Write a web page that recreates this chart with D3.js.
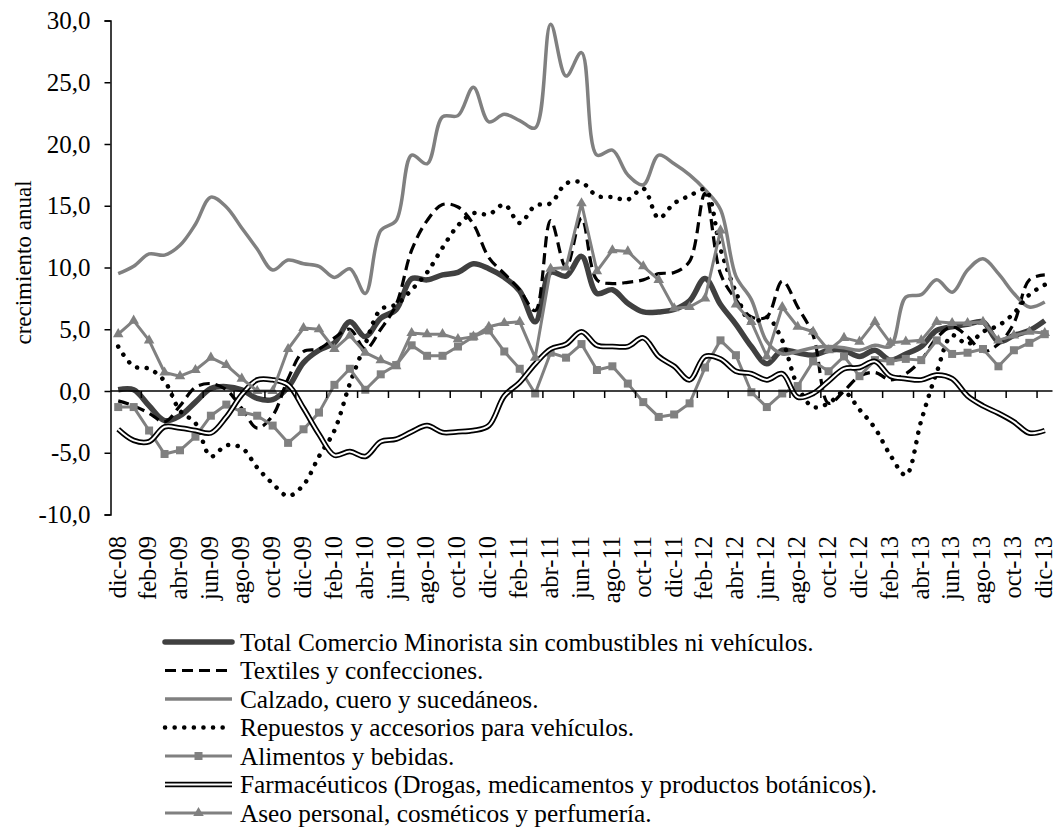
<!DOCTYPE html>
<html><head><meta charset="utf-8">
<script src="https://cdn.jsdelivr.net/npm/d3@7"></script>
<style>body{margin:0;background:#fff}svg{display:block}</style>
</head><body>
<script>
const categories = ["dic-08","ene-09","feb-09","mar-09","abr-09","may-09","jun-09","jul-09","ago-09","sep-09","oct-09","nov-09",
"dic-09","ene-10","feb-10","mar-10","abr-10","may-10","jun-10","jul-10","ago-10","sep-10","oct-10","nov-10",
"dic-10","ene-11","feb-11","mar-11","abr-11","may-11","jun-11","jul-11","ago-11","sep-11","oct-11","nov-11",
"dic-11","ene-12","feb-12","mar-12","abr-12","may-12","jun-12","jul-12","ago-12","sep-12","oct-12","nov-12",
"dic-12","ene-13","feb-13","mar-13","abr-13","may-13","jun-13","jul-13","ago-13","sep-13","oct-13","nov-13","dic-13"];

const yTicks = [-10, -5, 0, 5, 10, 15, 20, 25, 30];

const total = [0.1,0.1,-1.2,-2.4,-2.0,-0.9,0.2,0.35,0.1,-0.6,-0.7,0.3,
2.3,3.3,3.9,5.6,4.4,5.9,6.6,9.1,9.0,9.4,9.6,10.3,
9.9,9.2,8.1,5.6,9.6,9.3,10.9,7.9,8.2,7.1,6.4,6.4,
6.6,7.3,9.1,7.0,5.4,3.6,2.2,3.3,3.1,2.9,3.3,3.3,
2.8,3.3,2.5,3.0,3.6,4.9,5.2,5.4,5.6,4.0,4.5,4.9,5.7];

const textiles = [-0.8,-1.2,-1.8,-2.5,-1.2,0.3,0.6,0.1,-1.4,-3.0,-2.0,1.0,
3.2,3.4,4.3,5.0,3.4,5.0,7.0,11.4,13.8,15.1,14.9,13.5,
10.8,9.5,8.2,6.5,13.8,10.0,14.0,9.0,8.7,8.8,9.0,9.5,
9.6,10.5,16.0,9.5,7.4,6.0,6.0,8.9,6.8,4.5,-1.0,0.0,
1.2,1.5,0.9,1.4,2.5,4.3,5.2,4.4,3.2,3.8,5.5,9.0,9.4];

const calzado = [9.5,10.1,11.1,11.0,11.8,13.5,15.7,14.9,13.2,11.5,9.8,10.6,
10.3,10.1,9.2,9.9,7.9,13.0,13.8,19.1,18.4,22.2,22.3,24.6,
21.8,22.4,21.9,21.3,29.7,25.5,27.4,19.1,19.5,17.5,16.7,19.1,
18.4,17.5,16.3,14.7,9.3,7.4,4.0,3.0,3.2,3.5,3.6,3.5,
3.3,3.7,3.6,7.6,7.8,9.0,8.0,9.8,10.7,9.5,7.9,6.8,7.2];

const repuestos = [3.6,2.0,1.8,0.8,-1.6,-2.6,-5.3,-4.4,-4.6,-6.2,-7.5,-8.5,
-7.6,-5.3,-3.2,0.6,3.8,6.6,7.0,8.2,9.6,11.6,13.4,14.4,
14.3,15.1,13.6,15.0,15.2,16.8,16.9,15.8,15.7,15.5,16.4,14.0,
15.2,15.8,16.3,11.5,8.0,5.5,6.0,4.1,0.4,-1.3,-1.0,-0.1,
-1.5,-3.0,-5.2,-6.8,-2.4,1.5,4.5,3.8,4.8,5.3,6.3,7.8,8.6];

const alimentos = [-1.3,-1.3,-3.2,-5.1,-4.8,-3.7,-2.0,-1.1,-1.7,-2.0,-2.8,-4.2,
-3.1,-1.75,0.5,1.8,0.1,1.35,2.1,3.7,2.85,2.85,3.6,4.4,
4.9,3.2,1.8,-0.2,3.1,2.7,3.8,1.7,2.0,0.6,-0.9,-2.1,
-1.9,-1.0,1.9,4.1,2.9,-0.1,-1.3,-0.2,0.4,2.4,1.6,2.8,
1.2,2.5,2.4,2.6,2.5,4.1,3.0,3.1,3.4,2.0,3.3,3.9,4.6];

const farmaceuticos = [-3.1,-4.0,-4.1,-2.9,-3.0,-3.2,-3.4,-2.1,-0.3,0.9,0.9,0.5,
-1.4,-3.5,-5.2,-4.9,-5.3,-4.1,-3.9,-3.3,-2.8,-3.35,-3.3,-3.2,
-2.8,-0.4,0.7,2.2,3.4,3.8,4.8,3.7,3.6,3.6,4.3,2.8,
2.0,0.9,2.8,2.6,1.6,1.4,0.9,1.4,-0.5,-0.2,0.8,1.8,
1.9,2.4,1.2,1.0,0.9,1.3,1.0,-0.4,-1.2,-1.8,-2.5,-3.4,-3.2];

const aseo = [4.6,5.7,4.1,1.5,1.2,1.7,2.7,2.1,1.0,0.0,0.0,3.4,
5.1,5.0,3.4,4.5,3.1,2.5,2.0,4.7,4.6,4.6,4.2,4.4,
5.2,5.5,5.6,2.7,9.9,10.0,15.2,9.7,11.4,11.3,10.1,9.0,
6.7,6.8,7.5,13.0,7.0,5.6,2.8,6.8,5.2,4.8,3.3,4.3,
4.0,5.6,3.9,4.0,4.1,5.6,5.5,5.5,5.6,4.1,4.5,4.8,4.7];

const seriesNames = [
  "Total Comercio Minorista sin combustibles ni vehículos.",
  "Textiles y confecciones.",
  "Calzado, cuero y sucedáneos.",
  "Repuestos y accesorios para vehículos.",
  "Alimentos y bebidas.",
  "Farmacéuticos (Drogas, medicamentos y productos botánicos).",
  "Aseo personal, cosméticos y perfumería."
];
const seriesValues = [total, textiles, calzado, repuestos, alimentos, farmaceuticos, aseo];

const W = 1056, H = 827;
const mLeft = 110.5, mRight = 1052.5, mTop = 20.5, mBottom = 514.5;
const font = "'Liberation Serif','Times New Roman',serif";

const svg = d3.select("body").append("svg").attr("width", W).attr("height", H);
svg.append("rect").attr("width", W).attr("height", H).attr("fill", "#fff");

const x = d3.scaleBand().domain(categories).range([mLeft, mRight]).paddingInner(0).paddingOuter(0);
const xc = d => x(d) + x.bandwidth() / 2;
const y = d3.scaleLinear().domain([-10, 30]).range([mBottom, mTop]);

const styles = [
  {stroke: "#404040", width: 5.5, dash: null, smooth: true},
  {stroke: "#000", width: 3.2, dash: "11,6", smooth: true},
  {stroke: "#808080", width: 3.5, dash: null, smooth: true},
  {stroke: "#000", width: 4.5, dash: "0.1,9.5", cap: "round", smooth: true},
  {stroke: "#808080", width: 3, dash: null, smooth: false, marker: "square"},
  {stroke: "#000", width: 5.5, dash: null, smooth: true, double: true},
  {stroke: "#808080", width: 3, dash: null, smooth: false, marker: "triangle"}
];

// y axis
const yAxis = d3.axisLeft(y).tickValues(yTicks).tickSize(6).tickPadding(14)
  .tickFormat(d => d3.format(".1f")(d).replace(".", ",").replace("\u2212", "-"));
const gy = svg.append("g").attr("transform", `translate(${mLeft},0)`).call(yAxis);
gy.select(".domain").attr("stroke", "#000").attr("stroke-width", 1.5);
gy.selectAll(".tick line").attr("stroke", "#000").attr("stroke-width", 1.5);
gy.selectAll(".tick text").attr("font-family", font).attr("font-size", 25).attr("fill", "#000");

// y title
svg.append("text").attr("transform", `translate(23,${(mTop + mBottom) / 2 - 5}) rotate(-90)`)
  .attr("text-anchor", "middle").attr("dy", "0.35em")
  .attr("font-family", font).attr("font-size", 23).attr("fill", "#000").text("crecimiento anual");

// series
seriesValues.forEach((vals, si) => {
  const st = styles[si];
  const line = d3.line().x((d, i) => xc(categories[i])).y(d => y(d))
    .curve(st.smooth ? d3.curveCatmullRom.alpha(0.5) : d3.curveLinear);
  const p = svg.append("path").datum(vals).attr("d", line).attr("fill", "none")
    .attr("stroke", st.stroke).attr("stroke-width", st.width)
    .attr("stroke-linejoin", "round").attr("stroke-linecap", st.cap || "butt");
  if (st.dash) p.attr("stroke-dasharray", st.dash);
  if (st.double) {
    svg.append("path").datum(vals).attr("d", line).attr("fill", "none")
      .attr("stroke", "#fff").attr("stroke-width", 2).attr("stroke-linejoin", "round");
  }
  if (st.marker === "square") {
    svg.append("g").selectAll("rect").data(vals).join("rect")
      .attr("x", (d, i) => xc(categories[i]) - 4).attr("y", d => y(d) - 4)
      .attr("width", 8).attr("height", 8).attr("fill", "#808080");
  }
  if (st.marker === "triangle") {
    const tri = d3.symbol().type(d3.symbolTriangle).size(48);
    svg.append("g").selectAll("path").data(vals).join("path")
      .attr("d", tri).attr("transform", (d, i) => `translate(${xc(categories[i])},${y(d)})`)
      .attr("fill", "#808080");
  }
});

// x axis line at zero
const gx = svg.append("g");
gx.append("line").attr("x1", mLeft).attr("x2", mRight).attr("y1", y(0)).attr("y2", y(0))
  .attr("stroke", "#000").attr("stroke-width", 1.5);
categories.forEach((c, i) => {
  if (i % 2 === 0 && i > 0) {
    gx.append("line").attr("x1", x(c)).attr("x2", x(c)).attr("y1", y(0)).attr("y2", y(0) + 7)
      .attr("stroke", "#000").attr("stroke-width", 1.5);
  }
});
// x labels
svg.append("g").selectAll("text").data(categories.filter((c, i) => i % 2 === 0)).join("text")
  .attr("transform", d => `translate(${xc(d)},536) rotate(-90)`)
  .attr("text-anchor", "end").attr("dy", "0.3em")
  .attr("font-family", font).attr("font-size", 24.5).attr("fill", "#000").text(d => d);

// legend
const lg = svg.append("g");
const lx0 = 165, lx1 = 232, ly0 = 642, ldy = 28.5;
seriesNames.forEach((name, si) => {
  const st = styles[si];
  const yy = ly0 + si * ldy;
  const l = lg.append("line").attr("x1", lx0).attr("x2", lx1).attr("y1", yy).attr("y2", yy)
    .attr("stroke", st.stroke).attr("stroke-width", st.width)
    .attr("stroke-linecap", st.cap || (si === 0 ? "round" : "butt"));
  if (st.dash) l.attr("stroke-dasharray", st.dash);
  if (st.double) lg.append("line").attr("x1", lx0).attr("x2", lx1).attr("y1", yy).attr("y2", yy)
    .attr("stroke", "#fff").attr("stroke-width", 2);
  if (st.marker === "square") lg.append("rect").attr("x", (lx0 + lx1) / 2 - 4).attr("y", yy - 4)
    .attr("width", 8).attr("height", 8).attr("fill", "#808080");
  if (st.marker === "triangle") lg.append("path").attr("d", d3.symbol().type(d3.symbolTriangle).size(48))
    .attr("transform", `translate(${(lx0 + lx1) / 2},${yy})`).attr("fill", "#808080");
  lg.append("text").attr("x", 240).attr("y", yy).attr("dy", "0.35em")
    .attr("font-family", font).attr("font-size", 25.3).attr("fill", "#000").text(name);
});
</script>
</body></html>
